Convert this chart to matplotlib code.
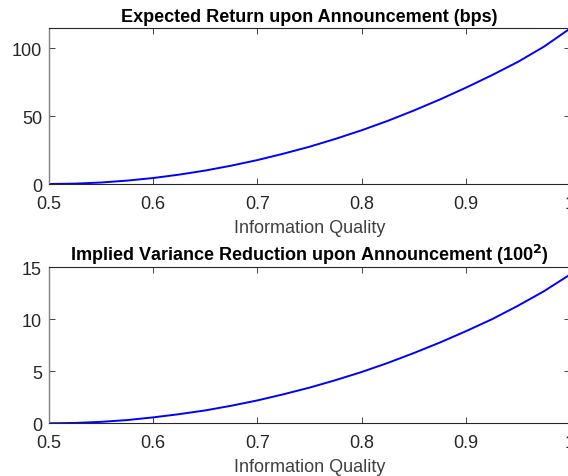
import numpy as np
import matplotlib
matplotlib.use("Agg")
import matplotlib.pyplot as plt

plt.rcParams['font.family'] = ['Liberation Sans', 'DejaVu Sans']

# values
quality = [0.5, 0.525, 0.55, 0.575, 0.6, 0.625, 0.65, 0.675, 0.7, 0.725, 0.75,
           0.775, 0.8, 0.825, 0.85, 0.875, 0.9, 0.925, 0.95, 0.975, 1.0]
exp_return = [0.0, 0.28, 1.1, 2.5, 4.4, 6.9, 9.9, 13.5, 17.6, 22.3, 27.4,
              33.2, 39.5, 46.4, 54.0, 62.1, 70.8, 80.0, 89.8, 101.0, 114.3]
var_reduction = [0.0, 0.035, 0.14, 0.31, 0.57, 0.88, 1.24, 1.69, 2.2, 2.79, 3.43,
                 4.15, 4.93, 5.8, 6.75, 7.76, 8.85, 10.0, 11.3, 12.7, 14.3]

xticks = [0.5, 0.6, 0.7, 0.8, 0.9, 1.0]
xticklabels = ['0.5', '0.6', '0.7', '0.8', '0.9', '1']

W, H = 568, 477
fig = plt.figure(figsize=(W / 100, H / 100), dpi=100)

def make_axes(top, bottom, left=49, right=570):
    return fig.add_axes([left / W, 1 - bottom / H, (right - left) / W, (bottom - top) / H])

def style(ax, y, ylim, yticks, title):
    ax.plot(quality, y, color='#0000ff', lw=1.4)
    ax.set_xlim(0.5, 1.0)
    ax.set_ylim(*ylim)
    ax.set_xticks(xticks)
    ax.set_xticklabels(xticklabels)
    ax.set_yticks(yticks)
    ax.tick_params(direction='in', length=4, width=0.6, colors='#262626',
                   labelsize=13, top=True, right=True)
    ax.tick_params(axis='x', pad=8)
    ax.tick_params(axis='y', pad=5)
    for s in ['top', 'right', 'bottom']:
        ax.spines[s].set_color('#262626')
        ax.spines[s].set_linewidth(0.8)
    ax.spines['left'].set_color('#808080')
    ax.spines['left'].set_linewidth(1.0)
    ax.set_xlabel('Information Quality', fontsize=13, color='#404040', labelpad=5)
    ax.set_title(title, fontsize=13, fontweight='bold', color='black', pad=5)

ax1 = make_axes(29.3, 185)
style(ax1, exp_return, (0, 114.5), [0, 50, 100], 'Expected Return upon Announcement (bps)')

ax2 = make_axes(268.3, 424.3)
style(ax2, var_reduction, (0, 15), [0, 5, 10, 15],
      r'Implied Variance Reduction upon Announcement (100$^\mathbf{2}$)')

fig.savefig('out.png', dpi=100)
